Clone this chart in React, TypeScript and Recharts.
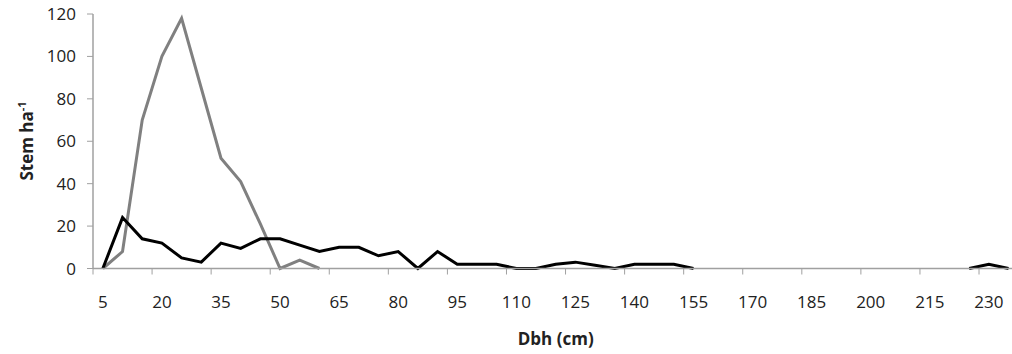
import React from "react";
import { LineChart, Line, XAxis, YAxis } from "recharts";

// diameter classes (cm)
const dbhClasses = [
  5, 10, 15, 20, 25, 30, 35, 40, 45, 50, 55, 60, 65, 70, 75, 80, 85, 90, 95, 100,
  105, 110, 115, 120, 125, 130, 135, 140, 145, 150, 155, 160, 165, 170, 175, 180,
  185, 190, 195, 200, 205, 210, 215, 220, 225, 230, 235,
];

// stems per hectare, black series (gap where no stems were recorded)
const blackStems = [
  0, 24, 14, 12, 5, 3, 12, 9.5, 14, 14, 11, 8, 10, 10, 6, 8, 0, 8, 2, 2,
  2, 0, 0, 2, 3, 1.5, 0, 2, 2, 2, 0, null, null, null, null, null,
  null, null, null, null, null, null, null, null, 0, 2, 0,
];

// stems per hectare, grey series
const greyStems = [
  0, 8, 70, 100, 118, 85, 52, 41, 21, 0, 4, 0, null, null, null, null, null, null, null, null,
  null, null, null, null, null, null, null, null, null, null, null, null, null, null, null, null,
  null, null, null, null, null, null, null, null, null, null, null,
];

const xLabelTicks = [5, 20, 35, 50, 65, 80, 95, 110, 125, 140, 155, 170, 185, 200, 215, 230];
const yTicks = [0, 20, 40, 60, 80, 100, 120];

const data = dbhClasses.map((dbh, i) => ({
  dbh,
  black: blackStems[i],
  grey: greyStems[i],
}));

const FONT = "'Open Sans', sans-serif";
const AXIS = "#a0a0a0";
const TEXT = "#222";

const WIDTH = 1012;
const LEFT = 93;
const RIGHT = -6.4;
// half of one 5 cm class in pixels; tick marks go on class boundaries
const HALF_CLASS = (WIDTH - LEFT - RIGHT) / dbhClasses.length / 2;

const XTick = ({ x, y, payload }: any) => (
  <g>
    <line x1={x - HALF_CLASS} x2={x - HALF_CLASS} y1={y} y2={y + 6} stroke={AXIS} />
    <text x={x} y={y + 27} dy="0.71em" textAnchor="middle" fill={TEXT} fontSize={17} fontFamily={FONT}>
      {payload.value}
    </text>
  </g>
);

const YTitle = () => (
  <text
    transform="translate(33, 141) rotate(-90)"
    textAnchor="middle"
    fontFamily={FONT}
    fontWeight="bold"
    fontSize={17}
    fill={TEXT}
  >
    Stem ha
    <tspan dy={-7} fontSize={11}>-1</tspan>
  </text>
);

export default function App() {
  return (
    <div style={{ position: "absolute", left: 0, top: 0, background: "#fff" }}>
      <LineChart
        width={WIDTH}
        height={354}
        data={data}
        margin={{ top: 14, right: RIGHT, left: 0, bottom: 0 }}
        style={{ fontFamily: FONT }}
      >
        <XAxis
          dataKey="dbh"
          type="number"
          domain={[2.5, 237.5]}
          ticks={xLabelTicks}
          interval={0}
          height={85.5}
          tickSize={0}
          tickMargin={0}
          tickLine={false}
          tick={XTick}
          axisLine={{ stroke: AXIS, strokeWidth: 1.5 }}
          label={{
            value: "Dbh (cm)",
            position: "insideBottom",
            offset: 9,
            fill: TEXT,
            fontSize: 17,
            fontWeight: "bold",
          }}
        />
        <YAxis
          domain={[0, 120]}
          ticks={yTicks}
          interval={0}
          width={LEFT}
          tickSize={6}
          tickMargin={11}
          tick={{ fill: TEXT, fontSize: 17 }}
          axisLine={{ stroke: AXIS, strokeWidth: 1.5 }}
          tickLine={{ stroke: AXIS }}
          label={{ content: () => <YTitle /> }}
        />
        <Line
          type="linear"
          dataKey="grey"
          stroke="#808080"
          strokeWidth={3}
          dot={false}
          isAnimationActive={false}
        />
        <Line
          type="linear"
          dataKey="black"
          stroke="#000"
          strokeWidth={3}
          dot={false}
          isAnimationActive={false}
        />
      </LineChart>
    </div>
  );
}
